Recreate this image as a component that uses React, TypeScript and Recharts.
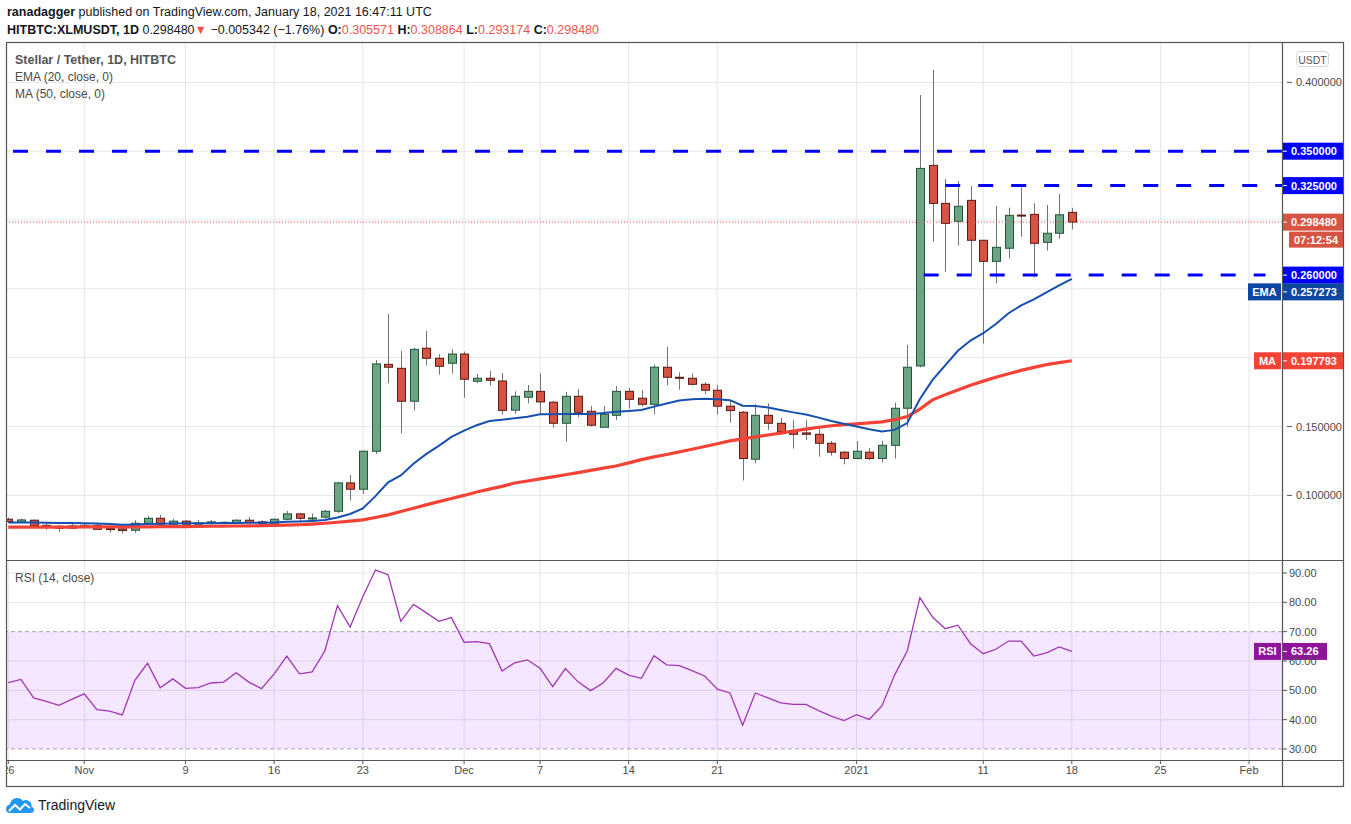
import React from 'react'
import { ComposedChart, Bar, Line, XAxis, YAxis, CartesianGrid, ReferenceLine, ReferenceArea } from 'recharts'

// daily candles, Oct 26 2020 .. Jan 18 2021 (index = day number)
const openP = [
  0.0827, 0.0805, 0.082, 0.0783, 0.0776, 0.0762, 0.0769, 0.0783, 0.0759, 0.0757,
  0.0747, 0.0798, 0.0834, 0.0791, 0.0813, 0.0791, 0.0796, 0.0798, 0.0803, 0.082,
  0.0808, 0.0798, 0.0827, 0.0866, 0.0834, 0.0842, 0.0885, 0.1091, 0.1045, 0.1321,
  0.1952, 0.1923, 0.1684, 0.2069, 0.1996, 0.196, 0.2027, 0.1829, 0.1851, 0.1831,
  0.1619, 0.1713, 0.1756, 0.1677, 0.1524, 0.172, 0.1611, 0.1495, 0.1582, 0.1756,
  0.1706, 0.1662, 0.1931, 0.1858, 0.1851, 0.1807, 0.1764, 0.1648, 0.1604, 0.1263,
  0.1582, 0.1524, 0.1466, 0.1454, 0.1444, 0.1379, 0.1314, 0.1268, 0.1314, 0.1268,
  0.1364, 0.1633, 0.194, 0.3397, 0.3121, 0.2991, 0.3143, 0.2853, 0.27, 0.2795,
  0.3036, 0.3041, 0.2838, 0.2904, 0.305571,
]
const highP = [
  0.0839, 0.0832, 0.0825, 0.0798, 0.0786, 0.0793, 0.0798, 0.0793, 0.0774, 0.0769,
  0.082, 0.0851, 0.0859, 0.083, 0.0822, 0.0822, 0.0822, 0.081, 0.0827, 0.0842,
  0.082, 0.0834, 0.0888, 0.0871, 0.0868, 0.0895, 0.1098, 0.1149, 0.1326, 0.1984,
  0.2318, 0.2049, 0.2073, 0.2194, 0.2027, 0.2064, 0.2044, 0.1882, 0.1904, 0.1889,
  0.1756, 0.1802, 0.1887, 0.1686, 0.1752, 0.1773, 0.165, 0.1648, 0.1795, 0.1781,
  0.1764, 0.1948, 0.2078, 0.1894, 0.1887, 0.1822, 0.1802, 0.1694, 0.1614, 0.1662,
  0.1669, 0.1563, 0.1548, 0.1548, 0.1488, 0.1396, 0.1323, 0.1396, 0.1343, 0.1396,
  0.1674, 0.2093, 0.3908, 0.4089, 0.3298, 0.3283, 0.3247, 0.2853, 0.3102, 0.309,
  0.3237, 0.3121, 0.3109, 0.3189, 0.308864,
]
const lowP = [
  0.0803, 0.0801, 0.0774, 0.075, 0.0735, 0.0755, 0.0764, 0.075, 0.073, 0.0723,
  0.073, 0.0791, 0.0783, 0.0781, 0.0774, 0.0786, 0.0788, 0.0791, 0.0798, 0.0793,
  0.0791, 0.0791, 0.082, 0.081, 0.0805, 0.0832, 0.0871, 0.0963, 0.1011, 0.1301,
  0.1815, 0.1451, 0.1616, 0.1943, 0.1877, 0.1887, 0.171, 0.1815, 0.1798, 0.1587,
  0.1594, 0.1669, 0.1589, 0.1493, 0.1391, 0.1568, 0.15, 0.1495, 0.1548, 0.1631,
  0.1645, 0.1589, 0.18, 0.1768, 0.1798, 0.1735, 0.1587, 0.1529, 0.1108, 0.1234,
  0.1476, 0.1439, 0.134, 0.1403, 0.1282, 0.1289, 0.1226, 0.1263, 0.1258, 0.1239,
  0.1268, 0.15, 0.1931, 0.2843, 0.2625, 0.2814, 0.2606, 0.2103, 0.2541, 0.272,
  0.2879, 0.2584, 0.2778, 0.2865, 0.293174,
]
const closeP = [
  0.081, 0.0822, 0.0781, 0.0774, 0.0762, 0.0779, 0.0783, 0.0754, 0.0755, 0.0745,
  0.0798, 0.0834, 0.0791, 0.0813, 0.0791, 0.08, 0.0808, 0.0805, 0.082, 0.0803,
  0.0798, 0.0827, 0.0866, 0.0834, 0.0836, 0.0885, 0.1091, 0.1045, 0.1321, 0.1955,
  0.1931, 0.1684, 0.2061, 0.1996, 0.1938, 0.2027, 0.1844, 0.1851, 0.1836, 0.1618,
  0.172, 0.1756, 0.1679, 0.1524, 0.172, 0.1604, 0.151, 0.1589, 0.1756, 0.1698,
  0.1662, 0.1931, 0.1858, 0.1851, 0.1807, 0.1764, 0.1648, 0.1616, 0.1268, 0.1582,
  0.1524, 0.1464, 0.1444, 0.1444, 0.1379, 0.1314, 0.1268, 0.1321, 0.1268, 0.1364,
  0.1633, 0.1931, 0.3375, 0.3121, 0.2976, 0.31, 0.2853, 0.27, 0.2802, 0.3034,
  0.3034, 0.2831, 0.2904, 0.303822, 0.29848,
]
// EMA(20) and MA(50)
const ema20 = [
  0.0803, 0.0803, 0.0803, 0.0802, 0.08, 0.0799, 0.0798, 0.0796, 0.0792, 0.0787,
  0.0789, 0.0793, 0.0795, 0.0796, 0.0797, 0.0797, 0.0798, 0.0799, 0.08, 0.0801,
  0.0802, 0.0804, 0.0808, 0.0811, 0.0815, 0.0821, 0.084, 0.0865, 0.0905, 0.0995,
  0.1095, 0.1145, 0.123, 0.13, 0.136, 0.1425, 0.147, 0.151, 0.154, 0.155,
  0.156, 0.1572, 0.1589, 0.159, 0.1592, 0.1592, 0.1592, 0.1598, 0.1607, 0.1614,
  0.1621, 0.1645, 0.1668, 0.1689, 0.1698, 0.1702, 0.1698, 0.1692, 0.1652, 0.165,
  0.1638, 0.1621, 0.1603, 0.1587, 0.1565, 0.154, 0.152, 0.15, 0.148, 0.1465,
  0.1476, 0.1525, 0.17, 0.1839, 0.1945, 0.205, 0.2125, 0.2178, 0.2245, 0.2323,
  0.238, 0.2424, 0.2475, 0.2525, 0.257273,
]
const ma50 = [
  0.077, 0.077, 0.077, 0.077, 0.077, 0.077, 0.0771, 0.0771, 0.0771, 0.0771,
  0.0772, 0.0772, 0.0773, 0.0774, 0.0774, 0.0775, 0.0776, 0.0777, 0.0778, 0.0779,
  0.078, 0.0782, 0.0784, 0.0787, 0.0792, 0.0798, 0.0805, 0.0813, 0.0822, 0.084,
  0.0859, 0.0883, 0.0907, 0.0931, 0.0955, 0.0978, 0.1, 0.1025, 0.1046, 0.1066,
  0.109, 0.1105, 0.112, 0.1135, 0.115, 0.1166, 0.1182, 0.1198, 0.1214, 0.1236,
  0.126, 0.128, 0.1297, 0.1316, 0.1335, 0.1355, 0.1375, 0.1396, 0.1411, 0.1425,
  0.1439, 0.1453, 0.1468, 0.1481, 0.1495, 0.1506, 0.1514, 0.152, 0.1527, 0.1534,
  0.155, 0.1573, 0.1627, 0.1694, 0.1732, 0.1766, 0.18, 0.183, 0.1858, 0.1884,
  0.1908, 0.193, 0.195, 0.1964, 0.197793,
]
const rsi14 = [
  52.6, 53.7, 47.4, 46.2, 44.9, 46.9, 48.8, 43.4, 42.9, 41.6,
  53.4, 59.2, 50.9, 53.9, 50.7, 50.9, 52.5, 52.8, 56.0, 52.8,
  50.6, 55.6, 61.7, 55.6, 56.3, 63.4, 78.9, 71.6, 81.9, 91.0,
  89.4, 73.5, 79.3, 76.5, 73.5, 74.8, 66.4, 66.6, 65.9, 56.6,
  59.4, 60.4, 57.5, 51.3, 57.4, 52.9, 49.9, 52.6, 57.5, 55.2,
  54.1, 61.8, 58.7, 58.4, 56.7, 54.9, 50.4, 49.1, 38.1, 49.1,
  47.4, 45.7, 45.2, 45.2, 43.1, 41.2, 39.7, 41.7, 40.1, 44.7,
  55.2, 63.4, 81.6, 75.0, 71.0, 72.2, 65.9, 62.5, 64.0, 66.8,
  66.8, 61.7, 62.8, 64.8, 63.26,
]

const timeTicks = [0, 6, 14, 21, 28, 36, 42, 49, 56, 67, 77, 84, 91, 98]
const timeLabels = ['26', 'Nov', '9', '16', '23', 'Dec', '7', '14', '21', '2021', '11', '18', '25', 'Feb']
const priceGrid = [0.1, 0.15, 0.2, 0.25, 0.3, 0.35, 0.4]
const priceLabels = [0.1, 0.15, 0.4]
const rsiGrid = [40, 50, 60, 80, 90]
const rsiTicks = [30, 40, 50, 60, 70, 80, 90]
const rsiBand = [30, 70]
const levels = [0.35, 0.325, 0.26]
const lastPrice = 0.29848
const lastEma = 0.257273
const lastMa = 0.197793
const lastRsi = 63.26

const rows = closeP.map((c, i) => ({
  d: i,
  open: openP[i],
  high: highP[i],
  low: lowP[i],
  close: c,
  range: [lowP[i], highP[i]],
  ema: ema20[i],
  ma: ma50[i],
  rsi: rsi14[i],
}))

const X_DOMAIN: [number, number] = [-0.18, 100.6]
const FONT = "'Liberation Sans', Arial, sans-serif"
const AXIS_TXT = '#4a4a4a'
const UP = '#6ba583'
const DOWN = '#d75442'

const Candle = (props: any) => {
  const { x, y, width, height, payload } = props
  const top = Math.min(y, y + height)
  const h = Math.abs(height)
  const span = payload.high - payload.low
  const k = span > 0 ? h / span : 0
  const yOf = (v: number) => top + (payload.high - v) * k
  const up = payload.close >= payload.open
  const bTop = yOf(Math.max(payload.open, payload.close))
  const bBot = yOf(Math.min(payload.open, payload.close))
  const cx = Math.round(x + width / 2) + 0.5
  return (
    <g>
      <line x1={cx} x2={cx} y1={top} y2={top + h} stroke="#737375" strokeWidth={1} />
      <rect
        x={cx - 4}
        y={bTop}
        width={8}
        height={Math.max(bBot - bTop, 1)}
        fill={up ? UP : DOWN}
        stroke={up ? '#225437' : '#5b1a13'}
        strokeWidth={1}
      />
    </g>
  )
}

// price-scale badge drawn at the right end of a horizontal reference line
const Badge = (props: any) => {
  const { viewBox, text, bg, tag, tagW = 28, sub, dy = 0, w = 62 } = props
  const x = viewBox.x + viewBox.width
  const y = viewBox.y + dy
  return (
    <g>
      {tag && (
        <g>
          <rect x={x - tagW - 1} y={y - 8.5} width={tagW} height={17} fill={bg} />
          <text x={x - 1 - tagW / 2} y={y + 4} textAnchor="middle" fill="#fff" fontSize={11} fontWeight="bold">
            {tag}
          </text>
        </g>
      )}
      <rect x={x} y={y - 8.5} width={w} height={17} fill={bg} />
      <line x1={x} x2={x + 5} y1={y} y2={y} stroke="#fff" strokeWidth={1} />
      <text x={x + 9} y={y + 4} fill="#fff" fontSize={11} fontWeight="bold">
        {text}
      </text>
      {sub && (
        <g>
          <rect x={x + 7} y={y + 9.5} width={54} height={16} fill={bg} />
          <text x={x + 34} y={y + 21.5} textAnchor="middle" fill="#fff" fontSize={11} fontWeight="bold">
            {sub}
          </text>
        </g>
      )}
    </g>
  )
}

const PriceTick = (props: any) => {
  const { x, y, payload } = props
  return (
    <g>
      <line x1={x - 3} x2={x + 2} y1={y} y2={y} stroke="#555" />
      <text x={x + 6} y={y + 4} fill={AXIS_TXT} fontSize={11}>
        {Number(payload.value).toFixed(6)}
      </text>
    </g>
  )
}

const Logo = () => (
  <svg width={28} height={20} viewBox="0 0 28 20">
    <path
      d="M4 18 Q0 18 0 14 Q0 10 4 9.5 Q5 3 11 3 Q15 3 17 6 Q19.5 4.5 22 5.5 Q26 7 25.5 11.5 Q28 12.5 28 15 Q28 18 24.5 18 Z"
      fill="#2196f3"
    />
    <polyline points="3,16 9,10 14,14.5 19,9 24,13" stroke="#fff" strokeWidth={2} fill="none" />
  </svg>
)

const legendStyle: React.CSSProperties = {
  position: 'absolute',
  left: 15,
  fontSize: 12,
  color: '#4a4a4a',
  whiteSpace: 'nowrap',
  lineHeight: '14px',
}

export default function App() {
  return (
    <div
      style={{
        position: 'fixed',
        left: 0,
        top: 0,
        width: 1351,
        height: 824,
        background: '#fff',
        fontFamily: FONT,
        color: '#131722',
        overflow: 'hidden',
      }}
    >
      {/* header */}
      <div style={{ position: 'absolute', left: 7, top: 4, fontSize: 12.5, whiteSpace: 'nowrap', lineHeight: '16px' }}>
        <b>ranadagger</b> published on TradingView.com, January 18, 2021 16:47:11 UTC
      </div>
      <div style={{ position: 'absolute', left: 7, top: 22, fontSize: 12.5, whiteSpace: 'nowrap', lineHeight: '16px' }}>
        <b>HITBTC:XLMUSDT, 1D</b> 0.298480<span style={{ color: '#ef5350' }}>▼</span> −0.005342 (−1.76%){' '}
        <b>O:</b>
        <span style={{ color: '#ef5350' }}>0.305571</span> <b>H:</b>
        <span style={{ color: '#ef5350' }}>0.308864</span> <b>L:</b>
        <span style={{ color: '#ef5350' }}>0.293174</span> <b>C:</b>
        <span style={{ color: '#ef5350' }}>0.298480</span>
      </div>

      {/* price pane */}
      <div style={{ position: 'absolute', left: 6, top: 42 }}>
        <ComposedChart width={1338} height={518} data={rows} margin={{ top: 0, right: 0, bottom: 0, left: 0 }}>
          <CartesianGrid stroke="#e6e6e6" horizontalValues={priceGrid} verticalValues={timeTicks} />
          <XAxis dataKey="d" type="number" domain={X_DOMAIN} ticks={timeTicks} allowDataOverflow hide />
          <YAxis
            orientation="right"
            width={62}
            type="number"
            domain={[0.0531, 0.4293]}
            allowDataOverflow
            ticks={priceLabels}
            interval={0}
            axisLine={false}
            tickLine={false}
            tick={<PriceTick />}
          />
          <ReferenceLine y={lastPrice} stroke="#ef5350" strokeDasharray="1 2" />
          <ReferenceLine y={levels[0]} stroke="#0000ff" strokeWidth={3} strokeDasharray="15 18" />
          <ReferenceLine
            segment={[
              { x: 74, y: levels[1] },
              { x: X_DOMAIN[1], y: levels[1] },
            ]}
            stroke="#0000ff"
            strokeWidth={3}
            strokeDasharray="15 18"
          />
          <ReferenceLine
            segment={[
              { x: 72.3, y: levels[2] },
              { x: 99.3, y: levels[2] },
            ]}
            stroke="#0000ff"
            strokeWidth={3}
            strokeDasharray="15 18"
          />
          <Bar dataKey="range" barSize={9} shape={Candle} isAnimationActive={false} />
          <Line type="linear" dataKey="ma" stroke="#f44336" strokeWidth={3.2} dot={false} isAnimationActive={false} />
          <Line type="linear" dataKey="ema" stroke="#1550b0" strokeWidth={2} dot={false} isAnimationActive={false} />
          <ReferenceLine y={levels[0]} stroke="none" label={<Badge text="0.350000" bg="#0000ff" />} />
          <ReferenceLine y={levels[1]} stroke="none" label={<Badge text="0.325000" bg="#0000ff" />} />
          <ReferenceLine y={lastPrice} stroke="none" label={<Badge text="0.298480" bg={DOWN} sub="07:12:54" />} />
          <ReferenceLine y={levels[2]} stroke="none" label={<Badge text="0.260000" bg="#0000ff" />} />
          <ReferenceLine y={lastEma} stroke="none" label={<Badge text="0.257273" bg="#0d47a1" tag="EMA" tagW={33} dy={13} />} />
          <ReferenceLine y={lastMa} stroke="none" label={<Badge text="0.197793" bg="#f44336" tag="MA" tagW={27} />} />
        </ComposedChart>
      </div>

      {/* RSI pane + time axis */}
      <div style={{ position: 'absolute', left: 6, top: 560 }}>
        <ComposedChart width={1338} height={227} data={rows} margin={{ top: 0, right: 0, bottom: 0, left: 0 }}>
          <CartesianGrid stroke="#e6e6e6" horizontalValues={rsiGrid} verticalValues={timeTicks} />
          <XAxis
            dataKey="d"
            type="number"
            domain={X_DOMAIN}
            allowDataOverflow
            ticks={timeTicks}
            interval={0}
            height={27}
            axisLine={false}
            tickSize={4}
            tickLine={{ stroke: '#555' }}
            tick={{ fill: AXIS_TXT, fontSize: 11 }}
            tickFormatter={(v: number) => timeLabels[timeTicks.indexOf(v)]}
          />
          <YAxis
            orientation="right"
            width={62}
            type="number"
            domain={[26.25, 94.43]}
            allowDataOverflow
            ticks={rsiTicks}
            interval={0}
            axisLine={false}
            tickSize={5}
            tickLine={{ stroke: '#555' }}
            tick={{ fill: AXIS_TXT, fontSize: 11 }}
            tickFormatter={(v: number) => v.toFixed(2)}
          />
          <ReferenceArea y1={rsiBand[0]} y2={rsiBand[1]} fill="#9915ff" fillOpacity={0.1} stroke="none" />
          <ReferenceLine y={rsiBand[1]} stroke="#a8a0ae" strokeDasharray="4 3" />
          <ReferenceLine y={rsiBand[0]} stroke="#a8a0ae" strokeDasharray="4 3" />
          <Line type="linear" dataKey="rsi" stroke="#a136b4" strokeWidth={1.3} dot={false} isAnimationActive={false} />
          <ReferenceLine y={lastRsi} stroke="none" label={<Badge text="63.26" bg="#8e1599" tag="RSI" tagW={27} w={45} />} />
        </ComposedChart>
      </div>

      {/* pane legends */}
      <div style={{ ...legendStyle, top: 53, fontSize: 12.5, fontWeight: 'bold', color: '#555' }}>Stellar / Tether, 1D, HITBTC</div>
      <div style={{ ...legendStyle, top: 70 }}>EMA (20, close, 0)</div>
      <div style={{ ...legendStyle, top: 87 }}>MA (50, close, 0)</div>
      <div style={{ ...legendStyle, top: 571 }}>RSI (14, close)</div>

      {/* currency tag */}
      <div
        style={{
          position: 'absolute',
          left: 1296,
          top: 51,
          width: 33,
          height: 16,
          border: '1px solid #d6d6d6',
          borderRadius: 4,
          fontSize: 10.5,
          color: '#555',
          textAlign: 'center',
          lineHeight: '16px',
          boxSizing: 'border-box',
        }}
      >
        USDT
      </div>

      {/* frame */}
      <svg width={1351} height={824} style={{ position: 'absolute', left: 0, top: 0, pointerEvents: 'none' }}>
        <rect x={6.5} y={42.5} width={1337} height={744} fill="none" stroke="#555" strokeWidth={1.2} />
        <line x1={1282.5} x2={1282.5} y1={42} y2={787} stroke="#555" strokeWidth={1.2} />
        <line x1={6} x2={1344} y1={560.5} y2={560.5} stroke="#555" strokeWidth={1.2} />
        <line x1={6} x2={1344} y1={760.5} y2={760.5} stroke="#555" strokeWidth={1.2} />
      </svg>

      {/* watermark */}
      <div style={{ position: 'absolute', left: 6, top: 795, display: 'flex', alignItems: 'center', gap: 4 }}>
        <Logo />
        <span style={{ fontSize: 14, color: '#131722' }}>TradingView</span>
      </div>
    </div>
  )
}
